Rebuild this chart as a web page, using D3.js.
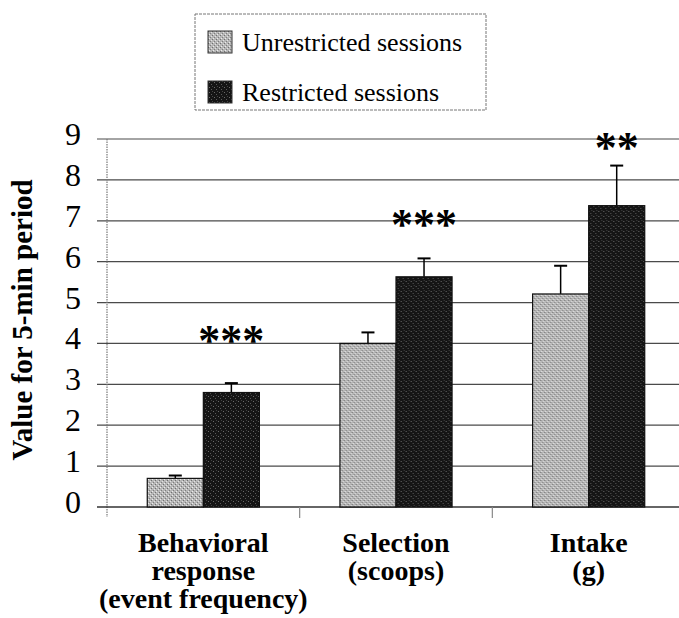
<!doctype html>
<html lang="en">
<head>
    <meta charset="UTF-8">
    <title>Value for 5-min period</title>
    <script src="https://d3js.org/d3.v7.min.js"></script>
    <style>
        body { margin: 0; background: #fff; }
        svg { display: block; font-family: "Liberation Serif", "Times New Roman", serif; }
    </style>
</head>
<body>
<script>
    // data
    var categories = ['Behavioral response (event frequency)', 'Selection (scoops)', 'Intake (g)'];
    var categoryLines = [['Behavioral', 'response', '(event frequency)'], ['Selection', '(scoops)'], ['Intake', '(g)']];
    var series = ['Unrestricted sessions', 'Restricted sessions'];
    var unrestricted = [0.70, 4.00, 5.21];
    var restricted = [2.80, 5.63, 7.37];
    var unrestrictedErr = [0.07, 0.27, 0.69];
    var restrictedErr = [0.23, 0.45, 0.98];
    var stars = ['***', '***', '**'];
    var starLevel = [4.25, 7.10, 8.97];
    var yTicks = [0, 1, 2, 3, 4, 5, 6, 7, 8, 9];

    var width = 679, height = 618;
    // plot box (window.top is reserved, so prefixed names)
    var plotLeft = 107, plotRight = 685, plotTop = 139, plotBottom = 507;

    var svg = d3.select('body').append('svg')
        .attr('width', width)
        .attr('height', height);

    // dithered fills like the scanned bars
    var defs = svg.append('defs');
    var light = defs.append('pattern').attr('id', 'light')
        .attr('patternUnits', 'userSpaceOnUse').attr('width', 4).attr('height', 4);
    light.append('rect').attr('width', 4).attr('height', 4).attr('fill', '#b6b6b6');
    light.append('rect').attr('x', 0).attr('y', 0).attr('width', 1).attr('height', 1).attr('fill', '#707070');
    light.append('rect').attr('x', 2).attr('y', 2).attr('width', 1).attr('height', 1).attr('fill', '#7e7e7e');
    light.append('rect').attr('x', 1).attr('y', 3).attr('width', 1).attr('height', 1).attr('fill', '#ececec');
    light.append('rect').attr('x', 3).attr('y', 1).attr('width', 1).attr('height', 1).attr('fill', '#e2e2e2');

    var dark = defs.append('pattern').attr('id', 'dark')
        .attr('patternUnits', 'userSpaceOnUse').attr('width', 5).attr('height', 5);
    dark.append('rect').attr('width', 5).attr('height', 5).attr('fill', '#151515');
    dark.append('rect').attr('x', 1).attr('y', 1).attr('width', 1).attr('height', 1).attr('fill', '#6a6a6a');
    dark.append('rect').attr('x', 3).attr('y', 3).attr('width', 1).attr('height', 1).attr('fill', '#5a5a5a');
    dark.append('rect').attr('x', 4).attr('y', 0).attr('width', 1).attr('height', 1).attr('fill', '#444');

    var fills = ['url(#light)', 'url(#dark)'];

    var y = d3.scaleLinear().domain([0, 9]).range([plotBottom, plotTop]);
    var x0 = d3.scaleBand().domain(categories).range([plotLeft, plotRight]);
    var groupW = x0.bandwidth() * 0.582;
    var x1 = d3.scaleBand().domain(series)
        .range([(x0.bandwidth() - groupW) / 2, (x0.bandwidth() + groupW) / 2]);

    // gridlines
    svg.append('g')
        .selectAll('line')
        .data(yTicks.slice(1))
        .enter().append('line')
        .attr('x1', plotLeft - 10).attr('x2', width)
        .attr('y1', function(d){ return y(d); })
        .attr('y2', function(d){ return y(d); })
        .attr('stroke', '#4a4a4a')
        .attr('stroke-width', 1.2);

    // y axis line (dotted) and baseline
    svg.append('line')
        .attr('x1', plotLeft).attr('x2', plotLeft)
        .attr('y1', plotTop).attr('y2', plotBottom + 10)
        .attr('stroke', '#777').attr('stroke-width', 1.2)
        .attr('stroke-dasharray', '1.5,1');
    svg.append('line')
        .attr('x1', plotLeft - 10).attr('x2', width)
        .attr('y1', y(0)).attr('y2', y(0))
        .attr('stroke', '#333').attr('stroke-width', 1.4);

    // category separator ticks
    svg.append('g')
        .selectAll('line')
        .data(categories.slice(1))
        .enter().append('line')
        .attr('x1', function(d){ return x0(d); })
        .attr('x2', function(d){ return x0(d); })
        .attr('y1', y(0)).attr('y2', y(0) + 11)
        .attr('stroke', '#888').attr('stroke-width', 1.2);

    // y tick labels
    svg.append('g')
        .selectAll('text')
        .data(yTicks)
        .enter().append('text')
        .attr('x', 81)
        .attr('y', function(d){ return y(d) + 6; })
        .attr('text-anchor', 'end')
        .attr('font-size', 32)
        .text(function(d){ return d; });

    // y axis title
    svg.append('text')
        .attr('transform', 'translate(32,320) rotate(-90)')
        .attr('text-anchor', 'middle')
        .attr('font-size', 29)
        .attr('font-weight', 'bold')
        .text('Value for 5-min period');

    // bars
    var rows = categories.map(function(c, i){
        return [
            {cat: c, s: series[0], v: unrestricted[i], e: unrestrictedErr[i], k: 0},
            {cat: c, s: series[1], v: restricted[i], e: restrictedErr[i], k: 1}
        ];
    });

    var groups = svg.append('g')
        .selectAll('g')
        .data(rows)
        .enter().append('g')
        .attr('transform', function(d){ return 'translate(' + x0(d[0].cat) + ',0)'; });

    var bar = groups.selectAll('g.bar')
        .data(function(d){ return d; })
        .enter().append('g').attr('class', 'bar');

    bar.append('line')
        .attr('x1', function(d){ return x1(d.s) + x1.bandwidth() / 2; })
        .attr('x2', function(d){ return x1(d.s) + x1.bandwidth() / 2; })
        .attr('y1', function(d){ return y(d.v); })
        .attr('y2', function(d){ return y(d.v + d.e); })
        .attr('stroke', '#000').attr('stroke-width', 1.5);
    bar.append('line')
        .attr('x1', function(d){ return x1(d.s) + x1.bandwidth() / 2 - 6.5; })
        .attr('x2', function(d){ return x1(d.s) + x1.bandwidth() / 2 + 6.5; })
        .attr('y1', function(d){ return y(d.v + d.e); })
        .attr('y2', function(d){ return y(d.v + d.e); })
        .attr('stroke', '#000').attr('stroke-width', 2);

    bar.append('rect')
        .attr('x', function(d){ return x1(d.s); })
        .attr('y', function(d){ return y(d.v); })
        .attr('width', x1.bandwidth())
        .attr('height', function(d){ return y(0) - y(d.v); })
        .attr('fill', function(d){ return fills[d.k]; })
        .attr('stroke', '#111').attr('stroke-width', 1.2);

    // significance stars over the restricted bars
    svg.append('g')
        .selectAll('text')
        .data(categories)
        .enter().append('text')
        .attr('x', function(d){ return x0(d) + x1(series[1]) + x1.bandwidth() / 2; })
        .attr('y', function(d, i){ return y(starLevel[i]) + 22; })
        .attr('text-anchor', 'middle')
        .attr('font-size', 44)
        .attr('font-weight', 'bold')
        .text(function(d, i){ return stars[i]; });

    // category labels
    var catLabel = svg.append('g')
        .selectAll('text')
        .data(categories)
        .enter().append('text')
        .attr('text-anchor', 'middle')
        .attr('font-size', 28)
        .attr('font-weight', 'bold');
    catLabel.selectAll('tspan')
        .data(function(d, i){ return categoryLines[i].map(function(t){ return {t: t, c: d}; }); })
        .enter().append('tspan')
        .attr('x', function(d){ return x0(d.c) + x0.bandwidth() / 2; })
        .attr('y', function(d, j){ return 552 + j * 28; })
        .text(function(d){ return d.t; });

    // legend
    var legend = svg.append('g').attr('transform', 'translate(195,14)');
    legend.append('rect')
        .attr('width', 291).attr('height', 96)
        .attr('fill', '#fff')
        .attr('stroke', '#777').attr('stroke-width', 1)
        .attr('stroke-dasharray', '3,1');
    var item = legend.selectAll('g')
        .data(series)
        .enter().append('g')
        .attr('transform', function(d, i){ return 'translate(13,' + (17 + i * 50) + ')'; });
    item.append('rect')
        .attr('width', 24).attr('height', 22)
        .attr('fill', function(d, i){ return fills[i]; })
        .attr('stroke', '#333').attr('stroke-width', 1);
    item.append('text')
        .attr('x', 34).attr('y', 20)
        .attr('font-size', 26)
        .text(function(d){ return d; });
</script>
</body>
</html>
